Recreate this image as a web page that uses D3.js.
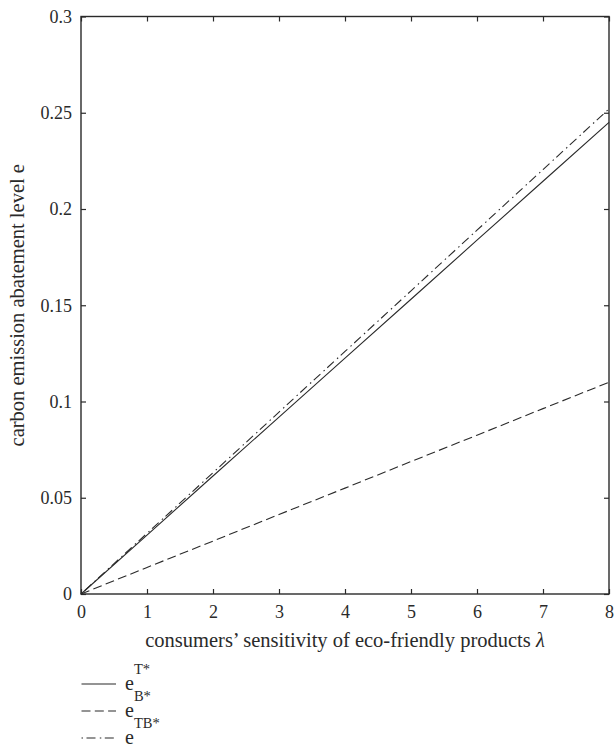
<!DOCTYPE html>
<html>
<head>
<meta charset="utf-8">
<script src="https://cdn.jsdelivr.net/npm/d3@7"></script>
<style>
  body { margin: 0; background: #fff; }
  svg { font-family: "Liberation Serif", "DejaVu Serif", serif; }
</style>
</head>
<body>
<svg id="chart" width="615" height="746"></svg>
<script>
// Consumer sensitivity λ and the abatement level e for each scenario
const lambda = [0, 1, 2, 3, 4, 5, 6, 7, 8];
const eT  = [0, 0.0306, 0.0613, 0.0919, 0.1225, 0.1531, 0.1838, 0.2144, 0.245];
const eB  = [0, 0.0138, 0.0275, 0.0413, 0.055, 0.0688, 0.0825, 0.0963, 0.110];
const eTB = [0, 0.0315, 0.063, 0.0945, 0.126, 0.1575, 0.189, 0.2205, 0.252];
const xTicks = [0, 1, 2, 3, 4, 5, 6, 7, 8];
const yTicks = [0, 0.05, 0.1, 0.15, 0.2, 0.25, 0.3];
const yTickLabels = ["0", "0.05", "0.1", "0.15", "0.2", "0.25", "0.3"];
const seriesNames = ["T*", "B*", "TB*"];

const svg = d3.select("#chart");
const plotL = 81, plotR = 609, plotT = 16.5, plotB = 594;
const serif = "'Liberation Serif', 'DejaVu Serif', serif";

const x = d3.scaleLinear().domain([0, 8]).range([plotL, plotR]);
const y = d3.scaleLinear().domain([0, 0.3]).range([plotB, plotT]);

const ink = "#2a2a2a";

// Frame
svg.append("rect")
  .attr("x", plotL).attr("y", plotT)
  .attr("width", plotR - plotL).attr("height", plotB - plotT)
  .attr("fill", "none").attr("stroke", ink).attr("stroke-width", 1.4);

// Inward ticks on all four sides
const tl = 5;
function styleAxis(g) {
  g.select(".domain").remove();
  g.attr("font-family", serif).attr("font-size", 18);
  g.selectAll(".tick line").attr("stroke", ink).attr("stroke-width", 1.2);
  g.selectAll(".tick text").attr("fill", ink);
}
svg.append("g").attr("transform", `translate(0,${plotB})`)
  .call(d3.axisBottom(x).tickValues(xTicks).tickSize(-tl).tickFormat(d => d).tickPadding(11))
  .call(styleAxis);
svg.append("g").attr("transform", `translate(0,${plotT})`)
  .call(d3.axisTop(x).tickValues(xTicks).tickSize(-tl).tickFormat(""))
  .call(styleAxis);
svg.append("g").attr("transform", `translate(${plotL},0)`)
  .call(d3.axisLeft(y).tickValues(yTicks).tickSize(-tl).tickFormat((d, i) => yTickLabels[i]).tickPadding(9))
  .call(styleAxis);
svg.append("g").attr("transform", `translate(${plotR},0)`)
  .call(d3.axisRight(y).tickValues(yTicks).tickSize(-tl).tickFormat(""))
  .call(styleAxis);

// Axis titles
svg.append("text")
  .attr("x", 345).attr("y", 647)
  .attr("text-anchor", "middle")
  .attr("fill", ink).attr("font-family", serif).attr("font-size", 20.5)
  .html("consumers’ sensitivity of eco-friendly products <tspan font-style='italic'>λ</tspan>");

svg.append("text")
  .attr("transform", `translate(24,${(plotT + plotB) / 2}) rotate(-90)`)
  .attr("text-anchor", "middle")
  .attr("fill", ink).attr("font-family", serif).attr("font-size", 20.5)
  .text("carbon emission abatement level e");

// Series lines
const dashes = [null, "9,4.3", "1.5,3.5,9,4.3"];
const series = [eT, eB, eTB];
const line = d3.line().x((d, i) => x(lambda[i])).y(d => y(d));
series.forEach((s, k) => {
  svg.append("path")
    .datum(s)
    .attr("d", line)
    .attr("fill", "none")
    .attr("stroke", ink)
    .attr("stroke-width", 1.1)
    .attr("stroke-dasharray", dashes[k]);
});

// Legend
const legY = [684, 711, 738];
seriesNames.forEach((name, k) => {
  svg.append("line")
    .attr("x1", 81.5).attr("x2", 116)
    .attr("y1", legY[k]).attr("y2", legY[k])
    .attr("stroke", ink).attr("stroke-width", 1.2)
    .attr("stroke-dasharray", dashes[k]);
  const t = svg.append("text")
    .attr("x", 125).attr("y", legY[k] + 5.5)
    .attr("fill", ink).attr("font-family", serif).attr("font-size", 20);
  t.append("tspan").text("e");
  t.append("tspan").attr("dy", -16).attr("font-size", 14.5).text(name);
});
</script>
</body>
</html>
